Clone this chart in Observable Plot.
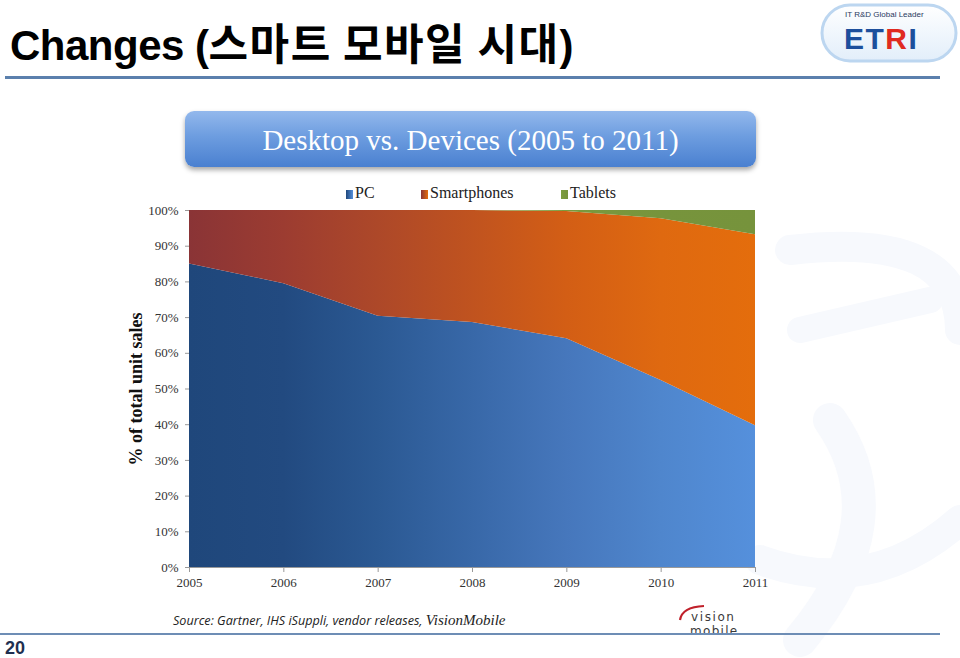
<!DOCTYPE html>
<html>
<head>
<meta charset="utf-8">
<script src="https://cdn.jsdelivr.net/npm/d3@7"></script>
<script src="https://cdn.jsdelivr.net/npm/@observablehq/plot@0.6"></script>
<style>
  html, body { margin:0; padding:0; background:#fff; }
  #page { position:relative; width:960px; height:658px; overflow:hidden; background:#fff; }
  .abs { position:absolute; }
  #hdr { left:10px; top:10px; font-family:"Liberation Sans", Arial, sans-serif; font-weight:bold; font-size:42px; color:#000; white-space:nowrap; letter-spacing:-0.5px; }
  #hdr .ko { font-family:"Noto Sans CJK KR", sans-serif; font-size:43px; font-weight:bold; letter-spacing:1.5px; }
  #topline { left:5px; top:76px; width:935px; height:3px; background:#5b80ad; }
  #botline { left:0px; top:633px; width:940px; height:2px; background:#6d8db5; }
  #pnum { left:5px; top:638px; font-family:"Liberation Sans", Arial, sans-serif; font-weight:bold; font-size:18px; color:#1f2f50; }
  #titlebox { left:185px; top:111px; width:571px; height:56px; border-radius:9px;
    background:linear-gradient(#93b8ec, #6d9de0 45%, #4a80d0); box-shadow:0 3px 5px rgba(0,0,0,0.35);
    color:#fff; font-family:"Liberation Serif", serif; font-size:29px; text-align:center; line-height:58px; }
  #legend { left:0; top:184px; width:960px; height:20px; font-family:"Liberation Serif", serif; font-size:16px; color:#222; }
  #legend span.item { position:absolute; white-space:nowrap; }
  #legend i { display:inline-block; width:7px; height:9px; margin-right:2px; vertical-align:-1px; }
  #source { left:173px; top:612px; font-family:"Open Sans", sans-serif; font-style:italic; font-size:12.6px; color:#222; white-space:nowrap; }
  #source .vm { font-family:"Liberation Serif", serif; font-size:15px; }
  #chart { left:120px; top:200px; }
</style>
</head>
<body>
<div id="page">
  <svg class="abs" style="left:0;top:0" width="960" height="658">
    <g fill="none" stroke="#f7f9fd" stroke-linecap="round">
      <path d="M790,250 Q960,230 960,330" stroke-width="30"/>
      <path d="M800,330 L930,300" stroke-width="26"/>
      <path d="M830,420 Q900,520 800,640" stroke-width="34"/>
      <path d="M760,560 Q870,600 960,520" stroke-width="30"/>
    </g>
  </svg>
  <div id="hdr" class="abs">Changes (<span class="ko">스마트 모바일 시대</span>)</div>
  <div id="topline" class="abs"></div>
  <svg class="abs" style="left:818px;top:2px" width="142" height="62">
    <defs>
      <linearGradient id="etriBg" x1="0" y1="0" x2="0" y2="1">
        <stop offset="0" stop-color="#ffffff"/>
        <stop offset="1" stop-color="#e2eefa"/>
      </linearGradient>
    </defs>
    <rect x="4" y="3" width="134" height="56" rx="28" fill="url(#etriBg)" stroke="#bcd6f0" stroke-width="3"/>
    <text x="27" y="15" font-family="Liberation Sans Narrow, Liberation Sans, sans-serif" font-size="8" fill="#2a3a60">IT R&amp;D Global Leader</text>
    <text x="26" y="47" font-family="Liberation Sans, sans-serif" font-weight="bold" font-size="30" letter-spacing="1.5" fill="#1d4f9c">ET<tspan fill="#e02a20">R</tspan>I</text>
  </svg>
  <div id="titlebox" class="abs">Desktop vs. Devices (2005 to 2011)</div>
  <div id="legend" class="abs"></div>
  <div id="chart" class="abs"></div>
  <div id="source" class="abs">Source: Gartner, IHS iSuppli, vendor releases, <span class="vm">VisionMobile</span></div>
  <svg class="abs" style="left:672px;top:598px" width="95" height="40">
    <path d="M8,22 Q10,9 32,8" fill="none" stroke="#c0202a" stroke-width="2.2"/>
    <text x="19" y="23" font-family="DejaVu Sans, sans-serif" font-size="12" fill="#3a3a3a" letter-spacing="1.6">vision</text>
    <text x="18" y="37" font-family="DejaVu Sans, sans-serif" font-size="12" fill="#3a3a3a" letter-spacing="1.3">mobile</text>
  </svg>
  <div id="botline" class="abs"></div>
  <div id="pnum" class="abs">20</div>
</div>
<script>
// ---- data ----
const years = [2005, 2006, 2007, 2008, 2009, 2010, 2011];
const seriesNames = ["PC", "Smartphones", "Tablets"];
const pcShare = [85, 79.5, 70.4, 68.6, 64.1, 52.4, 39.7];
const smartphoneShare = [15, 20.5, 29.6, 31.4, 35.6, 45.3, 53.5];
const tabletShare = [0, 0, 0, 0, 0.3, 2.3, 6.8];
const yTicks = [0, 10, 20, 30, 40, 50, 60, 70, 80, 90, 100];
const yAxisTitle = "% of total unit sales";

const gradients = {
  PC: ["#1f477b", "#224a80", "#2b5993", "#3868a8", "#4677bc", "#4f86cd", "#5590dc"],
  Smartphones: ["#8a3436", "#9c3c31", "#ad4829", "#c0531f", "#d35e15", "#df6910", "#e46d0c"],
  Tablets: ["#7d9d40", "#7a9a3e", "#789a3e", "#789a3e", "#7a9a3e", "#77943c", "#76933c"]
};

const shares = [pcShare, smartphoneShare, tabletShare];
const table = [];
seriesNames.forEach((s, si) => years.forEach((yr, i) => table.push({year: yr, series: s, value: shares[si][i]})));

const gradId = s => "grad-" + s;

const plot = Plot.plot({
  width: 660,
  height: 400,
  marginLeft: 69,
  marginRight: 25,
  marginTop: 10,
  marginBottom: 33,
  style: {fontFamily: "Liberation Serif, serif", fontSize: "13px", color: "#333", background: "transparent"},
  x: {domain: [2005, 2011], ticks: years, tickFormat: d => String(d), tickSize: 5, tickPadding: 5, label: null},
  y: {domain: [0, 100], ticks: yTicks, tickFormat: d => d + "%", tickSize: 4, tickPadding: 7, label: null},
  color: {type: "ordinal", domain: seriesNames, range: seriesNames.map(s => `url(#${gradId(s)})`)},
  marks: [
    Plot.areaY(table, {x: "year", y: "value", fill: "series", order: seriesNames, curve: "linear"}),
    Plot.ruleY([0], {stroke: "#999", strokeWidth: 1}),
    Plot.text([yAxisTitle], {frameAnchor: "left", dx: -53, rotate: -90, fontSize: 18, fontWeight: "bold", fill: "#111", textAnchor: "middle"})
  ]
});

// gradient definitions
const defs = d3.select(plot).insert("defs", ":first-child");
seriesNames.forEach(s => {
  const g = defs.append("linearGradient").attr("id", gradId(s)).attr("x1", 0).attr("x2", 1).attr("y1", 0).attr("y2", 0);
  gradients[s].forEach((c, i, arr) => g.append("stop").attr("offset", i / (arr.length - 1)).attr("stop-color", c));
});
d3.select(plot).selectAll("g[aria-label$='axis tick']").attr("stroke", "#999");
document.getElementById("chart").appendChild(plot);

// legend
const legendPos = {PC: 346, Smartphones: 421, Tablets: 561};
const legend = d3.select("#legend");
seriesNames.forEach(s => {
  const item = legend.append("span").attr("class", "item").style("left", legendPos[s] + "px");
  item.append("i").style("background", `linear-gradient(90deg, ${gradients[s][0]}, ${gradients[s][6]})`);
  item.append("span").text(s);
});
</script>
</body>
</html>
